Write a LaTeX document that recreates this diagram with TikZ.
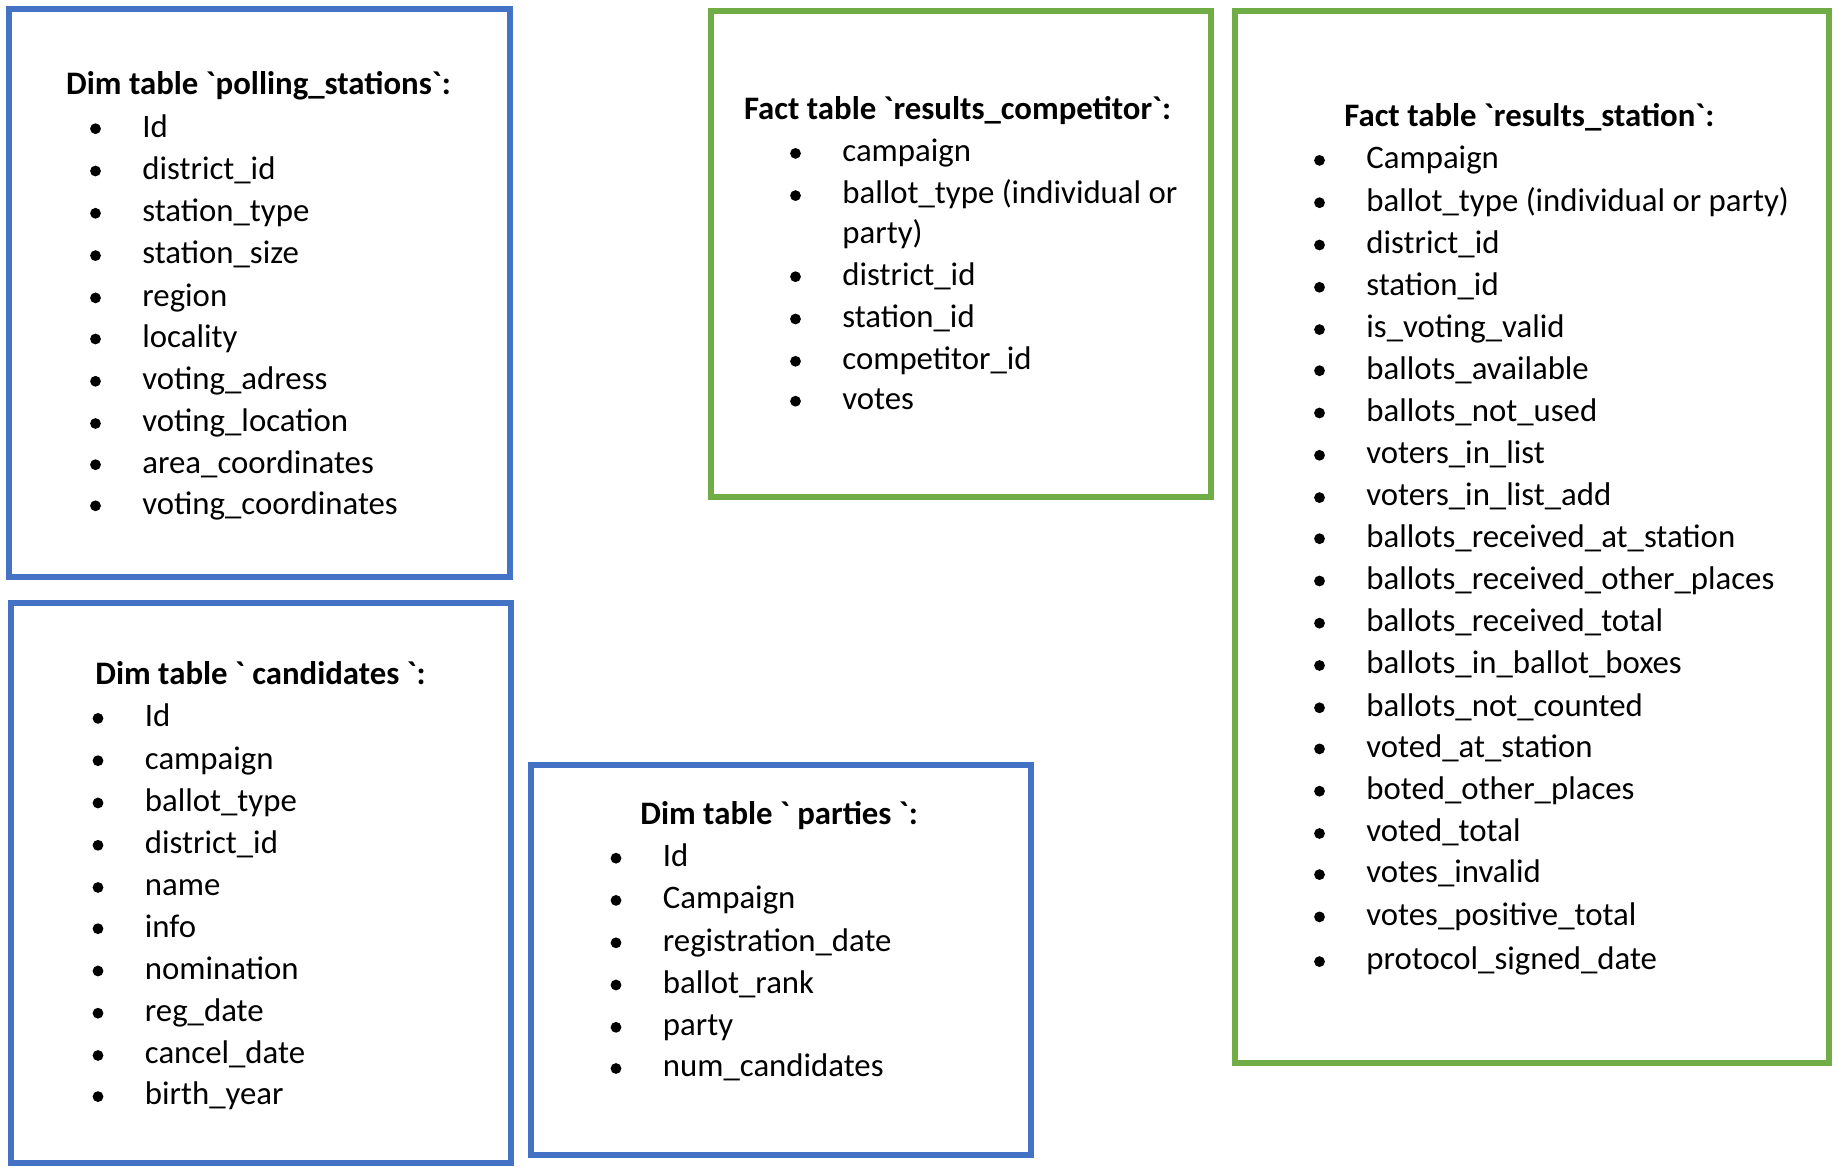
\documentclass[tikz,border=0pt]{standalone}
\usepackage{fontspec}
\newfontfamily\cf{Carlito}
\definecolor{bblue}{HTML}{4472C4}
\definecolor{bgreen}{HTML}{70AD47}
\newcommand\bq{\char"0060\relax}
\begin{document}
\begin{tikzpicture}[x=0.5pt,y=-0.5pt,
  tbox/.style={draw, line width=3pt, inner sep=0pt, outer sep=0pt, anchor=north west},
  dimbox/.style={tbox, draw=bblue},
  factbox/.style={tbox, draw=bgreen},
  item/.style={anchor=mid west, inner sep=0pt, yshift=-3.5pt, font=\cf\fontsize{16.4}{19.7}\selectfont},
  ttl/.style={item, font=\cf\bfseries\fontsize{16.4}{19.7}\selectfont},
  bul/.style={circle, fill=black, inner sep=0pt, minimum size=5.4pt, yshift=-1.5pt}]
\useasboundingbox[fill=white] (0,0) rectangle (1842,1176);
\newcommand\itm[4]{\node[item] (#1) at (#2,#3) {#4}; \node[bul] (#1b) at (#2-46.5,#3) {};}
% boxes
\node[dimbox, minimum width=250.2pt, minimum height=283.7pt] (ps) at (9.4,9.4) {};
\node[dimbox, minimum width=250.2pt, minimum height=280.2pt] (cand) at (10.6,602.6) {};
\node[dimbox, minimum width=250.2pt, minimum height=195.2pt] (part) at (531,764.7) {};
\node[factbox, minimum width=250pt, minimum height=243pt] (rc) at (711,11) {};
\node[factbox, minimum width=297pt, minimum height=526pt] (rs) at (1235,11) {};
% polling_stations
\node[ttl] (pst) at (65.8,83.4) {Dim table \bq polling\_stations\bq:};
\itm{p1}{142}{125.7}{Id}
\itm{p2}{142}{168}{district\_id}
\itm{p3}{142}{210.3}{station\_type}
\itm{p4}{142}{252.6}{station\_size}
\itm{p5}{142}{294.9}{region}
\itm{p6}{142}{336}{locality}
\itm{p7}{142}{378.3}{voting\_adress}
\itm{p8}{142}{420.5}{voting\_location}
\itm{p9}{142}{461.7}{area\_coordinates}
\itm{p10}{142}{502.8}{voting\_coordinates}
% candidates
\node[ttl] (cat) at (95,673.1) {Dim table \bq{} candidates \bq:};
\itm{c1}{144.5}{715.4}{Id}
\itm{c2}{144.5}{757.7}{campaign}
\itm{c3}{144.5}{800}{ballot\_type}
\itm{c4}{144.5}{842.3}{district\_id}
\itm{c5}{144.5}{884.5}{name}
\itm{c6}{144.5}{925.7}{info}
\itm{c7}{144.5}{968}{nomination}
\itm{c8}{144.5}{1010.2}{reg\_date}
\itm{c9}{144.5}{1052.5}{cancel\_date}
\itm{c10}{144.5}{1093.6}{birth\_year}
% parties
\node[ttl] (pat) at (640,812.9) {Dim table \bq{} parties \bq:};
\itm{q1}{662.5}{855.2}{Id}
\itm{q2}{662.5}{897.4}{Campaign}
\itm{q3}{662.5}{939.8}{registration\_date}
\itm{q4}{662.5}{982}{ballot\_rank}
\itm{q5}{662.5}{1024.3}{party}
\itm{q6}{662.5}{1065.5}{num\_candidates}
% results_competitor
\node[ttl] (rct) at (743.6,108.1) {Fact table \bq results\_competitor\bq:};
\itm{r1}{842}{150.4}{campaign}
\itm{r2}{842}{192.6}{ballot\_type (individual or}
\node[item] (r2b) at (842,232.6) {party)};
\itm{r3}{842}{273.7}{district\_id}
\itm{r4}{842}{316}{station\_id}
\itm{r5}{842}{358.3}{competitor\_id}
\itm{r6}{842}{398.2}{votes}
% results_station
\node[ttl] (rst) at (1344,115.1) {Fact table \bq results\_station\bq:};
\itm{s1}{1366}{157.4}{Campaign}
\itm{s2}{1366}{199.7}{ballot\_type (individual or party)}
\itm{s3}{1366}{242}{district\_id}
\itm{s4}{1366}{284.3}{station\_id}
\itm{s5}{1366}{326.6}{is\_voting\_valid}
\itm{s6}{1366}{367.7}{ballots\_available}
\itm{s7}{1366}{410}{ballots\_not\_used}
\itm{s8}{1366}{452.3}{voters\_in\_list}
\itm{s9}{1366}{494.6}{voters\_in\_list\_add}
\itm{s10}{1366}{535.7}{ballots\_received\_at\_station}
\itm{s11}{1366}{578}{ballots\_received\_other\_places}
\itm{s12}{1366}{620.2}{ballots\_received\_total}
\itm{s13}{1366}{662.5}{ballots\_in\_ballot\_boxes}
\itm{s14}{1366}{704.8}{ballots\_not\_counted}
\itm{s15}{1366}{745.9}{voted\_at\_station}
\itm{s16}{1366}{788.2}{boted\_other\_places}
\itm{s17}{1366}{830.5}{voted\_total}
\itm{s18}{1366}{871.6}{votes\_invalid}
\itm{s19}{1366}{913.9}{votes\_positive\_total}
\itm{s20}{1366}{958.6}{protocol\_signed\_date}
\end{tikzpicture}
\end{document}
